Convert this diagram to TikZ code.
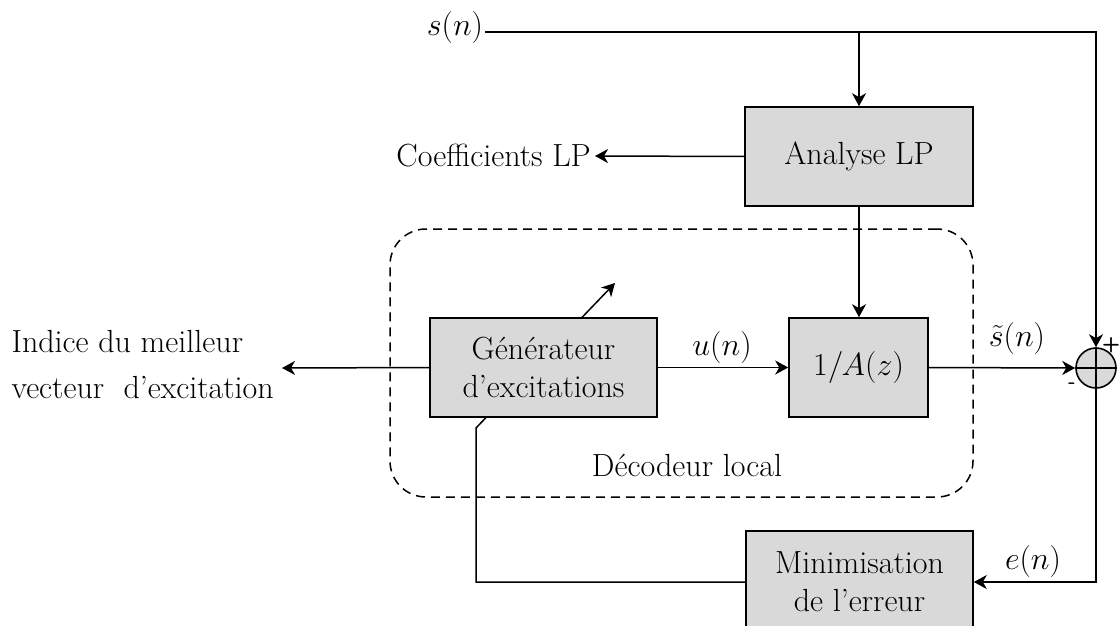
\RequirePackage{fix-cm}
\documentclass[tikz,border=0pt]{standalone}
\usetikzlibrary{arrows.meta,backgrounds}
\definecolor{boxgray}{HTML}{D9D9D9}
\newcommand{\lblfont}{\fontsize{32}{38}\selectfont}
\begin{document}
\begin{tikzpicture}[x=1pt,y=-1pt,
  blk/.style={draw=black, line width=1.6pt, fill=boxgray, inner sep=0pt, align=center, font=\lblfont},
  conn/.style={line width=1.5pt},
  arr/.style={conn, -{Stealth[length=13pt,width=14pt,inset=4pt]}},
  lbl/.style={font=\lblfont},
  sign/.style={font=\sffamily\bfseries\fontsize{21}{21}\selectfont, inner sep=0pt},
  deco/.style={draw=black, line width=1.5pt, dash pattern=on 9pt off 6pt, rounded corners=36pt}
]
\useasboundingbox (0,0) rectangle (1119,626);
\clip (0,0) rectangle (1119,626);

% blocks
\node[blk, minimum width=228pt, minimum height=99pt] (lp) at (859,156.5) {Analyse LP};
\node[blk, minimum width=139pt, minimum height=99pt] (filt) at (858.5,367.5) {$1/A(z)$};
\node[blk, minimum width=227pt, minimum height=99pt] (gen) at (543.5,367.5) {Générateur\\d’excitations};
\node[blk, minimum width=227pt, minimum height=102pt] (minb) at (859.5,582) {Minimisation\\de l’erreur};
\node[draw=black, line width=1.6pt, fill=boxgray, circle, minimum size=40pt, inner sep=0pt] (sum) at (1096,368) {};
\draw[line width=1.5pt] (sum.north) -- (sum.south) (sum.west) -- (sum.east);

% local decoder frame
\node[deco, minimum width=583pt, minimum height=268pt] (dec) at (681.5,363) {};
\node[lbl] (declbl) at (687,465) {Décodeur local};

% texts
\node[lbl, inner sep=2pt] (sn) at (455,28) {$s(n)$};
\node[lbl, anchor=east, inner sep=4pt] (coef) at (595,156) {Coefficients LP};
\node[lbl, anchor=west, align=left, font=\fontsize{32}{46}\selectfont] (ind) at (8,365) {Indice du meilleur\\vecteur~ d’excitation};
\node[lbl] (ulbl) at (722,347) {$u(n)$};
\node[lbl] (stlbl) at (1017,338) {$\tilde{s}(n)$};
\node[lbl] (elbl) at (1033,561) {$e(n)$};
\node[sign] (plus) at (1111,345) {+};
\node[sign] (minus) at (1072,386) {-};

\coordinate (indtip) at (282,368);
\coordinate (fbturn) at (476,428);
\coordinate (adj) at (615,283);

% connectors
\draw[arr] (sn.east |- 0,32) -- (sum.north |- 0,32) -- (sum.north);
\draw[arr] (lp.north |- 0,32) -- (lp.north);
\draw[arr] (lp.west) -- (coef.east);
\draw[arr] (lp.south) -- (lp.south |- filt.north);
\draw[arr] (gen.east) -- (filt.west);
\draw[arr] (filt.east) -- (sum.west);
\draw[arr] (sum.south) |- (minb.east);
\draw[arr] (gen.west) -- (indtip);
\begin{scope}[on background layer]
\draw[arr] (minb.west) -| (fbturn) -- (adj);
\end{scope}
\end{tikzpicture}
\end{document}
